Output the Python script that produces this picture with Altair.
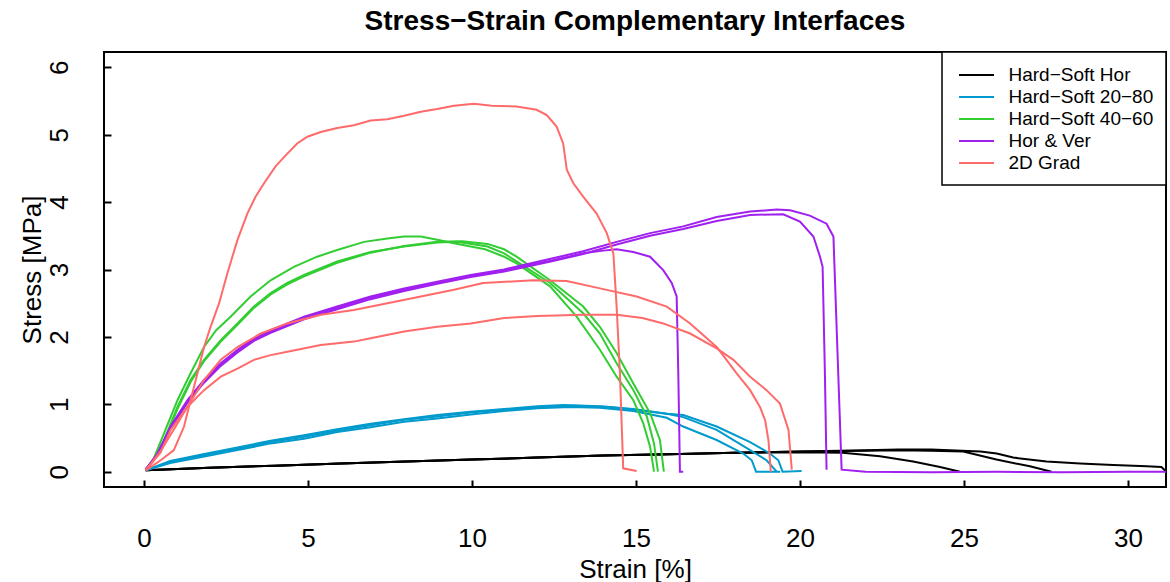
import altair as alt
import pandas as pd

# Series, colours and axis ticks
series_names = ["Hard−Soft Hor", "Hard−Soft 20−80", "Hard−Soft 40−60", "Hor & Ver", "2D Grad"]
series_colors = ["#000000", "#009ACD", "#32CD32", "#A020F0", "#FF6A6A"]
x_ticks = [0, 5, 10, 15, 20, 25, 30]
y_ticks = [0, 1, 2, 3, 4, 5, 6]

# Hard-Soft Hor (three specimens)
hor_a_strain = [0.05, 2, 4, 6, 8, 10, 12, 14, 16, 18, 20, 21.3, 22.44, 23.45, 24.27, 24.88]
hor_a_stress = [0.02, 0.06, 0.09, 0.12, 0.15, 0.18, 0.21, 0.24, 0.26, 0.28, 0.29, 0.28, 0.23, 0.15, 0.07, 0.0]
hor_b_strain = [0.05, 2, 4, 6, 8, 10, 12, 14, 16, 18, 20, 22, 23, 24, 24.98, 25.99, 27.01, 27.67]
hor_b_stress = [0.02, 0.06, 0.09, 0.12, 0.15, 0.18, 0.21, 0.24, 0.26, 0.28, 0.30, 0.31, 0.32, 0.31, 0.30, 0.18, 0.08, 0.0]
hor_c_strain = [0.05, 2, 4, 6, 8, 10, 12, 14, 16, 18, 20, 22, 23, 24, 25.5, 26, 26.5, 27.52, 28.54, 29.55, 30.57, 31.02, 31.17]
hor_c_stress = [0.02, 0.06, 0.09, 0.12, 0.15, 0.18, 0.21, 0.24, 0.26, 0.28, 0.30, 0.32, 0.33, 0.33, 0.30, 0.27, 0.21, 0.15, 0.12, 0.10, 0.08, 0.07, 0.0]

# Hard-Soft 20-80
s28_a_strain = [0.05, 0.8, 1.8, 2.85, 3.86, 4.88, 5.89, 6.91, 7.93, 8.94, 9.96, 10.98, 12, 13, 13.9, 14.92, 15.94, 16.44, 17.46, 18.27, 18.53, 18.66, 19.4]
s28_a_stress = [0.02, 0.13, 0.22, 0.32, 0.42, 0.49, 0.59, 0.66, 0.74, 0.79, 0.85, 0.90, 0.94, 0.96, 0.95, 0.90, 0.80, 0.67, 0.47, 0.27, 0.17, 0.0, 0.0]
s28_b_strain = [0.05, 0.8, 1.8, 2.85, 3.86, 4.88, 5.89, 6.91, 7.93, 8.94, 9.96, 10.98, 12, 12.8, 13.9, 14.92, 15.94, 16.44, 17.46, 18.48, 18.98, 19.29]
s28_b_stress = [0.02, 0.16, 0.26, 0.36, 0.46, 0.54, 0.63, 0.71, 0.78, 0.84, 0.89, 0.93, 0.97, 0.99, 0.97, 0.93, 0.86, 0.81, 0.62, 0.32, 0.17, 0.0]
s28_c_strain = [0.05, 0.8, 1.8, 2.85, 3.86, 4.88, 5.89, 6.91, 7.93, 8.94, 9.96, 10.98, 12, 13.2, 14.2, 14.92, 15.94, 16.44, 17.46, 18.48, 19.08, 19.34, 19.47, 20.05]
s28_c_stress = [0.02, 0.15, 0.24, 0.34, 0.44, 0.52, 0.61, 0.69, 0.77, 0.82, 0.88, 0.92, 0.96, 0.98, 0.96, 0.92, 0.86, 0.84, 0.67, 0.44, 0.27, 0.17, 0.0, 0.01]

# Hard-Soft 40-60
s46_a_strain = [0.05, 0.3, 0.61, 1.02, 1.42, 1.83, 2.2, 2.64, 3.25, 3.86, 4.57, 5.28, 5.89, 6.71, 7.42, 7.93, 8.44, 8.94, 9.45, 9.96, 10.4, 10.98, 11.36, 12.38, 13.19, 13.9, 14.41, 14.92, 15.22, 15.43, 15.55]
s46_a_stress = [0.03, 0.2, 0.57, 1.06, 1.46, 1.85, 2.1, 2.3, 2.6, 2.84, 3.04, 3.19, 3.29, 3.41, 3.46, 3.49, 3.49, 3.44, 3.39, 3.34, 3.30, 3.19, 3.09, 2.75, 2.3, 1.81, 1.41, 1.06, 0.72, 0.37, 0.0]
s46_b_strain = [0.05, 0.3, 0.61, 1.02, 1.42, 1.83, 2.34, 2.85, 3.35, 3.86, 4.37, 4.88, 5.89, 6.91, 7.93, 8.94, 9.55, 10.47, 10.98, 11.36, 12.38, 13.39, 13.9, 14.41, 14.92, 15.33, 15.55, 15.67]
s46_b_stress = [0.03, 0.18, 0.47, 0.96, 1.36, 1.66, 1.95, 2.2, 2.45, 2.65, 2.8, 2.92, 3.12, 3.26, 3.34, 3.4, 3.41, 3.34, 3.24, 3.12, 2.8, 2.35, 2.05, 1.61, 1.21, 0.82, 0.42, 0.0]
s46_c_strain = [0.05, 0.3, 0.61, 1.02, 1.42, 1.83, 2.34, 2.85, 3.35, 3.86, 4.37, 4.88, 5.89, 6.91, 7.93, 8.94, 9.7, 10.47, 10.98, 11.36, 12.38, 13.39, 13.9, 14.41, 14.92, 15.43, 15.73, 15.85]
s46_c_stress = [0.03, 0.17, 0.45, 0.93, 1.33, 1.64, 1.93, 2.18, 2.43, 2.63, 2.78, 2.9, 3.1, 3.25, 3.35, 3.41, 3.42, 3.38, 3.3, 3.19, 2.84, 2.45, 2.15, 1.76, 1.31, 0.87, 0.47, 0.0]

# Hor & Ver
hv_a_strain = [0.05, 0.4, 0.81, 1.32, 1.83, 2.34, 2.85, 3.35, 3.86, 4.88, 5.89, 6.91, 7.93, 8.94, 9.96, 10.98, 12.4, 13.39, 14.41, 15.43, 16.44, 17.46, 18.48, 19.29, 19.7, 20.3, 20.81, 21.02, 21.27, 22, 24, 26, 28, 30, 31.17]
hv_a_stress = [0.03, 0.25, 0.67, 1.06, 1.36, 1.61, 1.81, 1.98, 2.1, 2.3, 2.45, 2.6, 2.72, 2.82, 2.92, 3.0, 3.16, 3.27, 3.41, 3.54, 3.64, 3.78, 3.86, 3.89, 3.88, 3.8, 3.68, 3.49, 0.03, 0.0, -0.01, 0.0, -0.01, 0.0, 0.0]
hv_b_strain = [0.05, 0.4, 0.81, 1.32, 1.83, 2.34, 2.85, 3.35, 3.86, 4.88, 5.89, 6.91, 7.93, 8.94, 9.96, 10.98, 12.4, 13.39, 14.41, 15.43, 16.44, 17.46, 18.48, 19.49, 20.0, 20.41, 20.61, 20.69, 20.76, 20.81]
hv_b_stress = [0.03, 0.24, 0.64, 1.02, 1.32, 1.57, 1.77, 1.94, 2.06, 2.26, 2.41, 2.56, 2.68, 2.79, 2.89, 2.97, 3.12, 3.23, 3.37, 3.5, 3.6, 3.72, 3.81, 3.82, 3.71, 3.49, 3.19, 3.04, 1.46, 0.03]
hv_c_strain = [0.05, 0.4, 0.81, 1.32, 1.83, 2.34, 2.85, 3.35, 3.86, 4.88, 5.89, 6.91, 7.93, 8.94, 9.96, 10.98, 12.4, 13.39, 14.0, 14.41, 14.92, 15.43, 15.83, 16.09, 16.24, 16.29, 16.34, 16.44]
hv_c_stress = [0.03, 0.26, 0.66, 1.04, 1.34, 1.59, 1.79, 1.96, 2.08, 2.28, 2.43, 2.58, 2.7, 2.8, 2.9, 2.99, 3.13, 3.24, 3.28, 3.3, 3.26, 3.19, 2.99, 2.8, 2.6, 1.46, 0.0, 0.0]

# 2D Grad
g2d_a_strain = [0.05, 0.51, 0.91, 1.22, 1.42, 1.63, 1.83, 2.03, 2.29, 2.54, 2.85, 3.15, 3.4, 3.66, 4.01, 4.37, 4.67, 4.98, 5.39, 5.89, 6.4, 6.91, 7.42, 7.93, 8.44, 8.94, 9.45, 10.06, 10.6, 11.36, 11.97, 12.28, 12.58, 12.78, 12.89, 13.09, 13.39, 13.8, 14.11, 14.31, 14.41, 14.51, 14.61, 15.02]
g2d_a_stress = [0.02, 0.17, 0.32, 0.67, 1.06, 1.46, 1.85, 2.15, 2.5, 2.94, 3.44, 3.83, 4.08, 4.28, 4.53, 4.72, 4.87, 4.97, 5.04, 5.1, 5.14, 5.21, 5.23, 5.28, 5.34, 5.38, 5.43, 5.46, 5.43, 5.42, 5.37, 5.29, 5.12, 4.87, 4.48, 4.28, 4.08, 3.83, 3.54, 3.24, 2.45, 1.46, 0.05, 0.01]
g2d_b_strain = [0.05, 0.5, 0.9, 1.32, 1.83, 2.34, 2.85, 3.56, 4.37, 5.39, 6.4, 7.42, 8.44, 9.45, 10.34, 11.87, 12.89, 13.9, 15.02, 15.94, 16.65, 17.46, 18.07, 18.48, 18.78, 18.94, 19.04, 19.11]
g2d_b_stress = [0.02, 0.3, 0.62, 0.96, 1.36, 1.66, 1.85, 2.05, 2.2, 2.33, 2.4, 2.5, 2.6, 2.7, 2.8, 2.84, 2.83, 2.72, 2.6, 2.45, 2.2, 1.85, 1.46, 1.21, 0.96, 0.76, 0.46, 0.0]
g2d_c_strain = [0.05, 0.5, 0.81, 1.32, 1.83, 2.34, 2.85, 3.35, 3.86, 4.37, 5.39, 6.4, 6.91, 7.93, 8.94, 9.96, 10.98, 12.0, 13.39, 14.41, 15.2, 15.83, 16.65, 17.46, 17.97, 18.48, 18.98, 19.39, 19.65, 19.75]
g2d_c_stress = [0.02, 0.28, 0.62, 0.96, 1.21, 1.41, 1.53, 1.66, 1.73, 1.78, 1.88, 1.93, 1.98, 2.08, 2.15, 2.2, 2.28, 2.31, 2.33, 2.33, 2.28, 2.2, 2.05, 1.83, 1.66, 1.41, 1.21, 1.01, 0.62, 0.03]

curves = [
    (series_names[0], "hor_a", hor_a_strain, hor_a_stress),
    (series_names[0], "hor_b", hor_b_strain, hor_b_stress),
    (series_names[0], "hor_c", hor_c_strain, hor_c_stress),
    (series_names[1], "s28_a", s28_a_strain, s28_a_stress),
    (series_names[1], "s28_b", s28_b_strain, s28_b_stress),
    (series_names[1], "s28_c", s28_c_strain, s28_c_stress),
    (series_names[2], "s46_a", s46_a_strain, s46_a_stress),
    (series_names[2], "s46_b", s46_b_strain, s46_b_stress),
    (series_names[2], "s46_c", s46_c_strain, s46_c_stress),
    (series_names[3], "hv_a", hv_a_strain, hv_a_stress),
    (series_names[3], "hv_b", hv_b_strain, hv_b_stress),
    (series_names[3], "hv_c", hv_c_strain, hv_c_stress),
    (series_names[4], "g2d_a", g2d_a_strain, g2d_a_stress),
    (series_names[4], "g2d_b", g2d_b_strain, g2d_b_stress),
    (series_names[4], "g2d_c", g2d_c_strain, g2d_c_stress),
]

rows = []
for name, cid, xs, ys in curves:
    for i, (sx, sy) in enumerate(zip(xs, ys)):
        rows.append({"series": name, "curve": cid, "idx": i, "strain": sx, "stress": sy})
df = pd.DataFrame(rows)

FONT = "Liberation Sans"

x_enc = alt.X(
    "strain:Q",
    scale=alt.Scale(domain=[-1.22, 31.16], nice=False, zero=False),
    axis=alt.Axis(
        values=x_ticks, format="d", title="Strain [%]", grid=False, domain=False,
        offset=-7, tickSize=7, tickWidth=2, tickColor="black",
        labelFont=FONT, labelFontSize=26, labelColor="black", labelPadding=38,
        labelFlush=False, labelOverlap=False,
        titleFont=FONT, titleFontSize=26, titleFontWeight="normal", titleColor="black",
        titleBaseline="alphabetic", titleY=97,
    ),
)
y_enc = alt.Y(
    "stress:Q",
    scale=alt.Scale(domain=[-0.227, 6.227], nice=False, zero=False),
    axis=alt.Axis(
        values=y_ticks, format="d", title="Stress [MPa]", grid=False, domain=False,
        offset=-7, tickSize=7, tickWidth=2, tickColor="black",
        labelFont=FONT, labelFontSize=26, labelColor="black", labelPadding=37,
        labelAngle=270, labelAlign="center", labelBaseline="alphabetic",
        labelFlush=False, labelOverlap=False,
        titleFont=FONT, titleFontSize=26, titleFontWeight="normal", titleColor="black",
        titleAngle=270, titleAlign="center", titleBaseline="alphabetic",
        titleX=-71, titleY=217.5,
    ),
)
# Legend keys: a 35px horizontal stroke drawn as a custom path on a 20px symbol
color_enc = alt.Color(
    "series:N",
    scale=alt.Scale(domain=series_names, range=series_colors),
    legend=alt.Legend(
        title=None, orient="top-right", offset=0,
        symbolType="M-1.75,0H1.75", symbolSize=400, symbolStrokeWidth=2,
        symbolOffset=11.5, labelOffset=21, rowPadding=1,
        labelFont=FONT, labelFontSize=19, labelColor="black",
    ),
)

layers = []
for name in series_names:
    layers.append(
        alt.Chart(df)
        .transform_filter(alt.datum.series == name)
        .mark_line(strokeWidth=2, clip=True)
        .encode(x=x_enc, y=y_enc, color=color_enc, detail="curve:N", order="idx:Q")
    )

chart = (
    alt.layer(*layers)
    .properties(
        width=1062, height=435,
        title=alt.TitleParams("Stress−Strain Complementary Interfaces", frame="group"),
        autosize=alt.AutoSizeParams(type="none"),
        padding={"left": 104, "top": 52, "right": 4, "bottom": 95},
        background="white",
    )
    .configure_view(stroke="black", strokeWidth=2)
    .configure_title(
        font=FONT, fontSize=28, fontWeight="bold", color="black",
        anchor="middle", baseline="alphabetic", offset=15,
    )
    .configure_legend(
        strokeColor="black", strokeWidth=1.5, fillColor="white", padding=12,
    )
)

chart.save("out.html", embed_options={"renderer": "svg", "actions": False})
